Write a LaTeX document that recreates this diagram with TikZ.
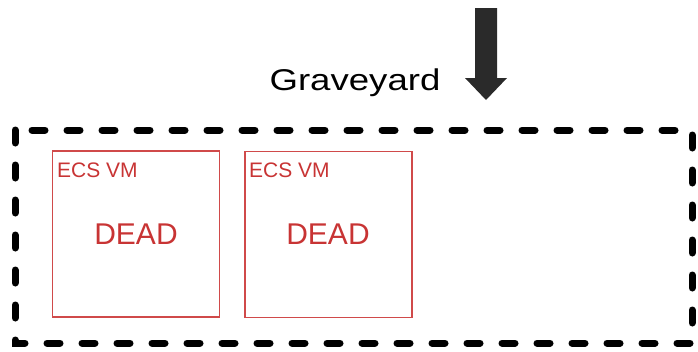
\documentclass[tikz,border=0pt]{standalone}
\usepackage{fontspec}
\setmainfont{Liberation Sans}
\definecolor{vmred}{HTML}{C83434}
\definecolor{vmedge}{HTML}{D04A4A}
\definecolor{arrowgray}{HTML}{2A2A2A}
\begin{document}
\begin{tikzpicture}[x=1pt,y=-1pt,
  zone/.style={draw=black,line width=7pt,line cap=round,dash pattern=on 13pt off 22pt},
  vmbox/.style={draw=vmedge,line width=1.5pt,minimum width=167pt,minimum height=166pt,inner sep=0pt},
  vmtitle/.style={text=vmred,font=\fontsize{21}{21}\selectfont,anchor=base west,inner sep=0pt},
  vmstate/.style={text=vmred,font=\fontsize{30}{30}\selectfont,anchor=base,inner sep=0pt},
  zonelabel/.style={font=\fontsize{30}{30}\selectfont,anchor=base,inner sep=0pt,xscale=1.22}]
\useasboundingbox (0,0) rectangle (698,351);
% graveyard zone
\draw[zone] (15,130) rectangle (692,343);
\node[zonelabel] (label) at (355,90) {Graveyard};
% incoming arrow
\fill[arrowgray] (475,8) -- (497,8) -- (497,78) -- (507,78) -- (486,100)
  -- (465,78) -- (475,78) -- cycle;
% dead VMs
\node[vmbox] (vm1) at (136,234) {};
\node[vmtitle] (vm1t) at (57,177) {ECS VM};
\node[vmstate] (vm1s) at (136,244) {DEAD};
\node[vmbox] (vm2) at (328.5,234.5) {};
\node[vmtitle] (vm2t) at (249,177) {ECS VM};
\node[vmstate] (vm2s) at (328,244) {DEAD};
\end{tikzpicture}
\end{document}
